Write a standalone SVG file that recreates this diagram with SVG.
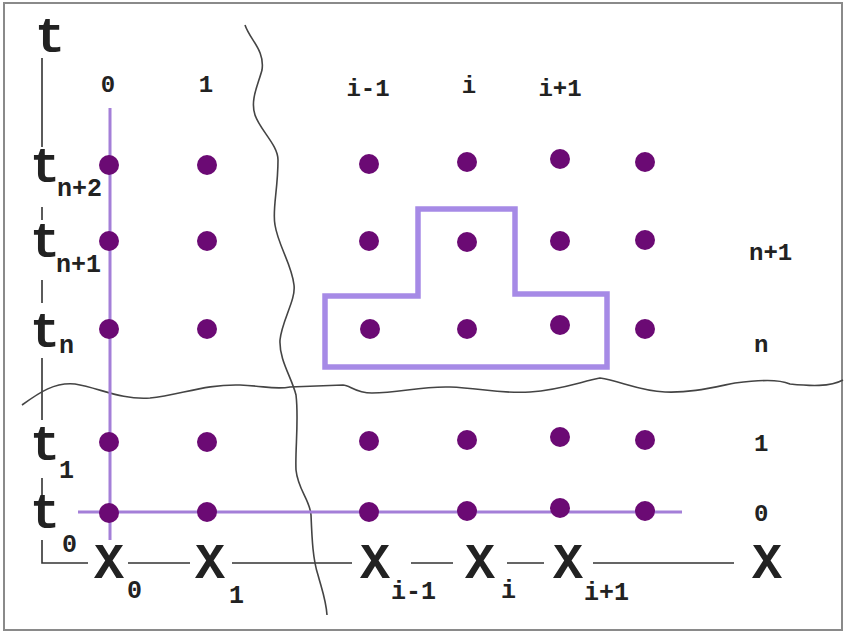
<svg xmlns="http://www.w3.org/2000/svg" width="846" height="633" viewBox="0 0 846 633">
<style>
.frame{fill:#fff;stroke:#8a8a8a;stroke-width:2}
.ax{stroke:#333;stroke-width:1.6;fill:none}
.wavy{stroke:#444;stroke-width:1.6;fill:none}
.grid{stroke:#a47fd8;stroke-width:3;fill:none}
.dot{fill:#6b0a74}
.stencil{fill:none;stroke:#a68ae6;stroke-width:5.5}
text{font-family:"Liberation Mono","Courier New",monospace;font-weight:bold;fill:#222}
.big{font-size:50px}
.sub{font-size:25px}
.lab{font-size:24px}
</style>
<rect class="frame" x="4" y="3" width="838" height="627"/>

<g id="axes">
<path class="ax" d="M42,58 V147 M42,207 V220 M42,280 V303 M42,358 V420 M42,478 V497 M42,540 V563 H88 M128,563 H190 M232,563 H352 M411,563 H453 M507,563 H544 M593,563 H734"/>
</g>

<g id="breaks">
<path class="wavy" d="M245,25 C250,40 265,50 262,70 C258,85 250,100 255,115 C260,130 278,145 278,160 C278,190 272,210 275,225 C278,245 292,265 294,285 C296,300 282,320 280,340 C279,360 292,378 296,395 C299,420 295,450 296,470 C298,490 310,500 311,515 C312,540 313,560 318,575 C322,590 326,600 327,615"/>
<path class="wavy" d="M22,405 C40,392 55,382 75,384 C100,388 120,400 150,398 C180,395 205,384 240,385 C265,386 275,390 290,387 L343,385 C350,385 355,393 372,393 C400,393 420,386 450,387 C480,388 500,394 530,392 C560,390 580,382 600,378 C620,381 640,391 665,392 C690,393 710,388 735,383 C760,380 778,379 790,384 C810,386 830,387 843,380"/>
</g>

<g id="grid-lines">
<path class="grid" d="M110,108 V540 M78,512 H682"/>
</g>

<g id="stencil">
<path class="stencil" d="M325,296 H418 V209 H515 V294 H607 V367 H325 Z"/>
</g>

<g id="points">
<g id="row-n2">
<circle class="dot" cx="109" cy="165" r="10"/><circle class="dot" cx="207" cy="165" r="10"/><circle class="dot" cx="369" cy="164" r="10"/><circle class="dot" cx="467" cy="162" r="10"/><circle class="dot" cx="560" cy="159" r="10"/><circle class="dot" cx="645" cy="162" r="10"/>
</g>
<g id="row-n1">
<circle class="dot" cx="109" cy="241" r="10"/><circle class="dot" cx="207" cy="241" r="10"/><circle class="dot" cx="369" cy="241" r="10"/><circle class="dot" cx="467" cy="242" r="10"/><circle class="dot" cx="560" cy="241" r="10"/><circle class="dot" cx="645" cy="240" r="10"/>
</g>
<g id="row-n">
<circle class="dot" cx="109" cy="329" r="10"/><circle class="dot" cx="207" cy="329" r="10"/><circle class="dot" cx="370" cy="329" r="10"/><circle class="dot" cx="467" cy="329" r="10"/><circle class="dot" cx="560" cy="325" r="10"/><circle class="dot" cx="645" cy="329" r="10"/>
</g>
<g id="row-1">
<circle class="dot" cx="109" cy="442" r="10"/><circle class="dot" cx="207" cy="442" r="10"/><circle class="dot" cx="369" cy="441" r="10"/><circle class="dot" cx="467" cy="440" r="10"/><circle class="dot" cx="560" cy="437" r="10"/><circle class="dot" cx="645" cy="440" r="10"/>
</g>
<g id="row-0">
<circle class="dot" cx="109" cy="513" r="10"/><circle class="dot" cx="207" cy="512" r="10"/><circle class="dot" cx="369" cy="512" r="10"/><circle class="dot" cx="467" cy="511" r="10"/><circle class="dot" cx="560" cy="508" r="10"/><circle class="dot" cx="645" cy="511" r="10"/>
</g>
</g>

<g id="t-labels">
<text class="big" x="50" y="52" text-anchor="middle">t</text>
<text class="big" x="45" y="182" text-anchor="middle">t</text><text class="sub" x="57" y="196">n+2</text>
<text class="big" x="45" y="257" text-anchor="middle">t</text><text class="sub" x="56" y="272">n+1</text>
<text class="big" x="45" y="347" text-anchor="middle">t</text><text class="sub" x="59" y="353">n</text>
<text class="big" x="45" y="460" text-anchor="middle">t</text><text class="sub" x="59" y="478">1</text>
<text class="big" x="45" y="528" text-anchor="middle">t</text><text class="sub" x="62" y="552">0</text>
</g>

<g id="x-labels">
<text class="big" x="109" y="578" text-anchor="middle">X</text><text class="sub" x="127" y="598">0</text>
<text class="big" x="210" y="578" text-anchor="middle">X</text><text class="sub" x="229" y="603">1</text>
<text class="big" x="375" y="578" text-anchor="middle">X</text><text class="sub" x="391" y="599">i-1</text>
<text class="big" x="480" y="578" text-anchor="middle">X</text><text class="sub" x="501" y="598">i</text>
<text class="big" x="568" y="578" text-anchor="middle">X</text><text class="sub" x="584" y="600">i+1</text>
<text class="big" x="767" y="578" text-anchor="middle">X</text>
</g>

<g id="column-labels">
<text class="lab" x="108" y="92" text-anchor="middle">0</text>
<text class="lab" x="206" y="92" text-anchor="middle">1</text>
<text class="lab" x="368" y="96" text-anchor="middle">i-1</text>
<text class="lab" x="469" y="93" text-anchor="middle">i</text>
<text class="lab" x="560" y="96" text-anchor="middle">i+1</text>
</g>

<g id="row-labels">
<text class="lab" x="749" y="260">n+1</text>
<text class="lab" x="754" y="352">n</text>
<text class="lab" x="754" y="451">1</text>
<text class="lab" x="754" y="521">0</text>
</g>
</svg>
